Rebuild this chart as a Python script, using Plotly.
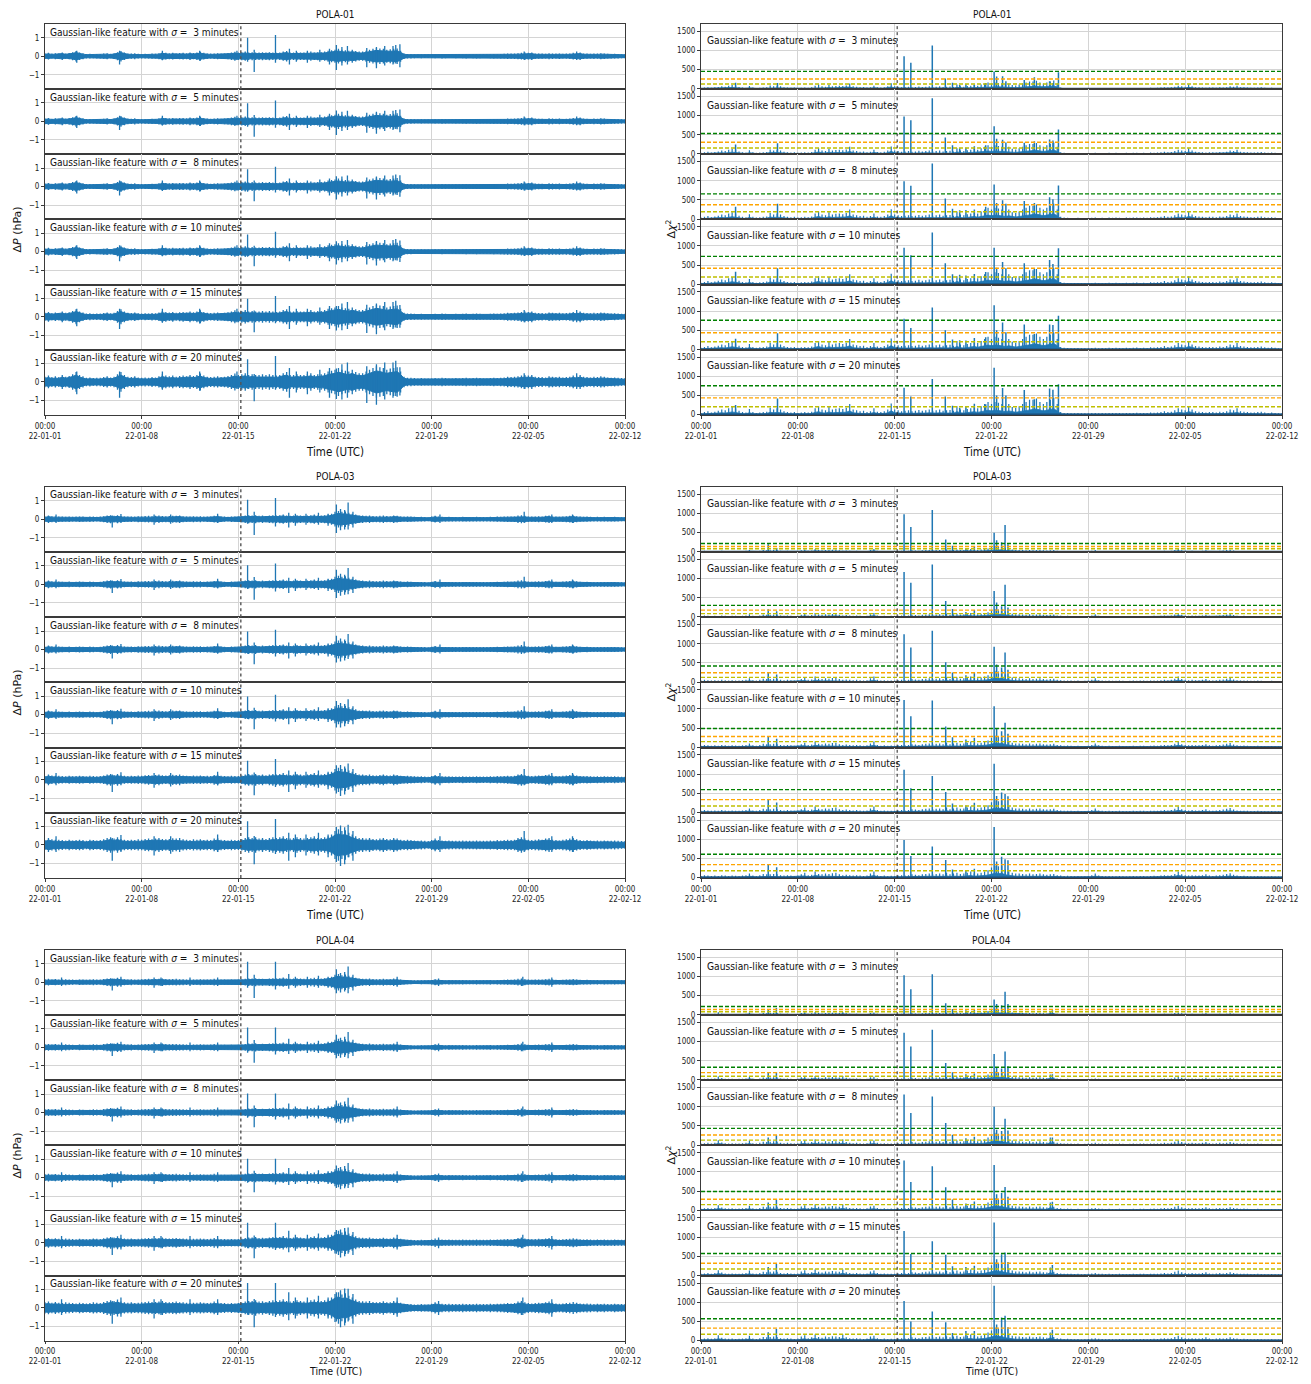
import pandas as pd
import plotly.graph_objects as go

# ---------------- data ----------------
stations = ["POLA-01", "POLA-03", "POLA-04"]
sigmas = [3, 5, 8, 10, 15, 20]
start_date = "2022-01-01"
n_days = 42
event_day = 14.18          # 2022-01-15 04:15 UTC
bin_step_days = 0.25       # 6-hour bins
tick_days = [0, 7, 14, 21, 28, 35, 42]
tick_text = ["00:00<br>22-01-01", "00:00<br>22-01-08", "00:00<br>22-01-15", "00:00<br>22-01-22",
             "00:00<br>22-01-29", "00:00<br>22-02-05", "00:00<br>22-02-12"]
dp_ticks = [-1, 0, 1]
dp_tick_text = ["\u22121", "0", "1"]
chi_ticks = [0, 500, 1000, 1500]
chi_tick_text = ["0", "500", "1000", "1500"]

# ---- ΔP envelope amplitude (hPa), sigma = 3 min, 6-hour bins ----
amp_pola01 = [
    .15, .18, .14, .16, .14, .20, .15, .17, .22, .28, .20, .16, .12, .13, .11, .12,
    .12, .14, .16, .13, .15, .22, .28, .20, .15, .14, .16, .13, .12, .13, .12, .14,
    .13, .16, .22, .18, .16, .18, .15, .17, .18, .16, .20, .17, .20, .24, .18, .15,
    .14, .15, .16, .14, .15, .17, .20, .24, .20, .22, .25, .20, .22, .20, .20, .22,
    .20, .22, .20, .18, .20, .25, .28, .20, .20, .22, .20, .20, .22, .25, .20, .22,
    .22, .25, .30, .32, .35, .40, .35, .32, .30, .35, .28, .25, .25, .30, .35, .40,
    .45, .42, .40, .35, .38, .40, .42, .30, .15, .12, .12, .11, .10, .11, .10, .10,
    .10, .11, .10, .12, .11, .10, .10, .11, .10, .11, .12, .10, .11, .12, .11, .10,
    .10, .11, .12, .11, .12, .13, .15, .14, .15, .16, .18, .20, .18, .20, .15, .14,
    .14, .13, .16, .15, .14, .15, .13, .14, .15, .18, .16, .20, .15, .14, .13, .15,
    .14, .16, .15, .13, .12, .13, .12, .11]
amp_pola03 = [
    .14, .20, .16, .15, .15, .14, .13, .15, .13, .14, .15, .14, .12, .15, .14, .13,
    .14, .16, .20, .22, .18, .22, .17, .15, .14, .15, .14, .16, .15, .17, .18, .16,
    .18, .20, .17, .16, .17, .19, .18, .20, .16, .15, .14, .16, .15, .16, .14, .15,
    .14, .18, .20, .15, .14, .13, .15, .14, .14, .16, .20, .22, .20, .22, .18, .20,
    .17, .20, .22, .20, .22, .25, .20, .18, .20, .22, .20, .18, .20, .22, .25, .20,
    .20, .22, .25, .30, .40, .45, .40, .42, .35, .30, .25, .20, .20, .18, .20, .17,
    .16, .18, .20, .17, .16, .20, .18, .15, .14, .15, .14, .13, .12, .13, .12, .11,
    .14, .18, .14, .13, .12, .13, .12, .12, .12, .13, .12, .12, .12, .13, .12, .12,
    .12, .13, .12, .14, .13, .14, .15, .14, .15, .20, .22, .18, .15, .14, .15, .16,
    .15, .18, .20, .15, .14, .13, .15, .16, .18, .20, .16, .14, .13, .14, .13, .12,
    .13, .12, .13, .12, .12, .13, .12, .11]
amp_pola04 = [
    .16, .18, .15, .17, .15, .14, .16, .15, .14, .13, .15, .14, .13, .14, .16, .15,
    .14, .17, .20, .22, .20, .24, .18, .16, .15, .16, .14, .15, .16, .17, .18, .17,
    .17, .18, .20, .17, .16, .17, .18, .16, .16, .15, .14, .15, .15, .16, .15, .14,
    .15, .18, .16, .14, .14, .13, .14, .13, .14, .15, .18, .20, .20, .22, .18, .19,
    .17, .20, .22, .20, .22, .25, .20, .18, .20, .22, .20, .18, .19, .22, .24, .20,
    .20, .22, .24, .30, .40, .45, .38, .42, .35, .30, .24, .20, .19, .18, .20, .17,
    .16, .17, .19, .16, .16, .20, .18, .15, .12, .11, .11, .10, .10, .11, .10, .10,
    .12, .16, .13, .12, .11, .12, .11, .11, .11, .12, .11, .11, .11, .12, .11, .11,
    .11, .12, .11, .12, .12, .13, .14, .13, .14, .18, .20, .16, .14, .13, .14, .15,
    .14, .16, .18, .15, .13, .12, .13, .14, .15, .17, .15, .13, .12, .13, .12, .11,
    .12, .11, .12, .11, .11, .12, .11, .11]
amp_gain_by_sigma = [1.0, 1.03, 1.08, 1.15, 1.45, 1.9]

# ---- ΔP spikes: (day, up, down) at sigma = 3 min ----
major_dp_pola01 = [(14.67, 1.0, -.3), (15.15, .35, -.85), (16.69, 1.15, -.35), (21.1, .6, -.75), (25.7, .65, -.6)]
minor_dp_pola01 = [(2.3, .3, -.35), (5.4, .3, -.45), (8.5, .3, -.2), (11.2, .3, -.25), (13.9, .3, -.2),
                   (17.7, .4, -.45), (18.2, .3, -.3), (19.0, .3, -.35), (19.9, .35, -.3), (20.6, .4, -.45),
                   (21.5, .5, -.5), (21.9, .55, -.45), (23.3, .45, -.6), (24.0, .5, -.65), (24.6, .55, -.5),
                   (25.2, .55, -.45), (25.4, .6, -.4), (34.7, .25, -.2), (38.5, .25, -.2)]
major_dp_pola03 = [(14.67, 1.05, -.25), (15.15, .4, -.85), (16.69, 1.15, -.4), (21.1, .8, -.75), (21.95, .9, -.55)]
minor_dp_pola03 = [(0.8, .25, -.2), (4.87, .2, -.45), (5.5, .28, -.2), (7.9, .25, -.3), (9.1, .25, -.25),
                   (12.5, .3, -.2), (17.65, .35, -.45), (18.13, .3, -.35), (18.9, .3, -.3), (19.8, .35, -.3),
                   (20.5, .3, -.35), (21.4, .55, -.6), (21.7, .5, -.55), (22.3, .4, -.45), (28.6, .25, -.2),
                   (34.7, .4, -.2), (36.7, .25, -.2), (38.2, .25, -.2)]
major_dp_pola04 = [(14.67, 1.1, -.3), (15.15, .4, -.85), (16.69, 1.1, -.4), (21.1, .7, -.6), (21.95, .85, -.6)]
minor_dp_pola04 = [(1.2, .25, -.2), (4.87, .2, -.45), (5.5, .3, -.25), (7.9, .25, -.3), (8.4, .25, -.2),
                   (10.5, .25, -.2), (12.5, .25, -.2), (17.65, .45, -.35), (18.13, .3, -.3), (19.0, .3, -.3),
                   (19.8, .35, -.3), (20.5, .3, -.3), (21.4, .5, -.55), (21.7, .55, -.5), (22.3, .4, -.45),
                   (25.5, .3, -.25), (28.5, .2, -.2), (34.6, .3, -.2), (36.7, .25, -.25)]
major_gain_by_sigma = [1.0, 0.98, 0.93, 0.93, 0.98, 1.22]

# ---- Δχ² background, sigma = 8 min, 6-hour bins ----
chi_bg_pola01 = [
    40, 60, 80, 50, 70, 90, 120, 100, 150, 180, 140, 90, 60, 50, 130, 60,
    40, 50, 60, 70, 160, 120, 150, 120, 80, 60, 50, 60, 40, 50, 60, 50,
    70, 150, 200, 120, 100, 180, 120, 140, 150, 130, 160, 250, 120, 100, 80, 90,
    60, 80, 150, 70, 60, 80, 120, 260, 120, 100, 80, 90, 100, 80, 90, 110,
    90, 100, 120, 90, 100, 120, 90, 100, 110, 90, 200, 120, 100, 130, 150, 200,
    150, 200, 250, 300, 250, 300, 280, 250, 200, 250, 180, 160, 200, 250, 300, 350,
    350, 380, 300, 250, 300, 350, 400, 250, 60, 40, 35, 30, 30, 35, 30, 30,
    30, 35, 40, 30, 35, 30, 40, 35, 40, 35, 30, 40, 35, 40, 45, 35,
    40, 35, 50, 45, 50, 60, 80, 60, 70, 100, 150, 120, 100, 200, 120, 80,
    70, 60, 50, 60, 60, 50, 70, 60, 80, 120, 100, 150, 80, 70, 60, 50,
    50, 60, 70, 50, 40, 50, 40, 30]
chi_bg_pola03 = [
    40, 60, 50, 40, 50, 40, 60, 50, 40, 50, 45, 40, 50, 60, 100, 50,
    40, 60, 90, 80, 80, 90, 80, 60, 50, 60, 50, 40, 50, 80, 120, 60,
    70, 150, 90, 80, 100, 90, 110, 120, 80, 60, 70, 60, 50, 60, 50, 40,
    50, 100, 150, 60, 40, 50, 40, 45, 40, 50, 60, 50, 60, 80, 70, 60,
    80, 90, 100, 80, 90, 100, 80, 120, 80, 100, 120, 90, 100, 120, 150, 100,
    100, 120, 150, 180, 250, 300, 280, 300, 200, 150, 120, 100, 100, 90, 80, 100,
    80, 90, 100, 80, 70, 80, 90, 60, 50, 40, 45, 40, 35, 40, 30, 35,
    40, 60, 100, 50, 40, 35, 40, 35, 35, 40, 35, 30, 35, 40, 35, 40,
    40, 35, 40, 45, 40, 50, 60, 50, 60, 90, 150, 80, 60, 50, 60, 50,
    50, 60, 80, 50, 40, 50, 60, 70, 90, 110, 70, 50, 40, 45, 40, 35,
    35, 40, 35, 30, 30, 35, 30, 30]
chi_bg_pola04 = [
    40, 50, 60, 45, 60, 130, 70, 50, 45, 50, 40, 45, 50, 60, 120, 50,
    40, 60, 90, 80, 90, 100, 90, 60, 50, 60, 50, 40, 50, 100, 130, 60,
    80, 150, 90, 70, 100, 90, 110, 100, 90, 150, 80, 60, 50, 60, 50, 40,
    50, 100, 120, 60, 40, 50, 40, 45, 40, 50, 60, 50, 60, 80, 70, 60,
    80, 90, 100, 80, 90, 100, 80, 110, 80, 100, 120, 90, 100, 120, 150, 100,
    100, 120, 150, 200, 250, 320, 300, 280, 200, 150, 120, 100, 100, 90, 80, 100,
    80, 90, 100, 80, 70, 200, 90, 60, 50, 40, 45, 40, 35, 40, 30, 35,
    40, 50, 60, 45, 40, 35, 40, 35, 35, 40, 35, 30, 35, 40, 35, 40,
    40, 35, 40, 45, 40, 50, 60, 50, 60, 90, 120, 80, 60, 50, 60, 50,
    50, 60, 80, 50, 40, 50, 60, 50, 60, 80, 60, 50, 40, 45, 40, 35,
    35, 40, 35, 30, 30, 35, 30, 30]
chi_bg_gain_pola01 = [0.55, 0.75, 1.0, 1.05, 1.1, 1.1]
chi_bg_gain_pola03 = [0.5, 0.7, 1.0, 1.0, 1.05, 1.05]
chi_bg_gain_pola04 = [0.5, 0.7, 1.0, 1.0, 1.05, 1.05]

# ---- Δχ² spikes: (day, [value for sigma = 3, 5, 8, 10, 15, 20]) ----
chi_spikes_pola01 = [
    (2.5, [160, 250, 320, 330, 280, 250]), (5.53, [150, 280, 400, 420, 420, 420]),
    (14.68, [850, 980, 990, 950, 800, 700]), (15.17, [680, 880, 870, 760, 560, 470]),
    (16.72, [1130, 1450, 1450, 1350, 1090, 930]), (17.66, [270, 430, 540, 550, 500, 470]),
    (18.18, [160, 230, 270, 260, 260, 230]), (18.7, [100, 150, 230, 250, 240, 180]),
    (19.15, [120, 160, 240, 230, 230, 200]), (19.76, [100, 200, 250, 270, 300, 280]),
    (20.58, [150, 230, 320, 320, 320, 270]), (21.19, [450, 720, 900, 950, 1150, 1220]),
    (21.37, [320, 400, 420, 430, 500, 500]), (21.8, [330, 370, 490, 580, 700, 690]),
    (22.04, [200, 300, 400, 420, 450, 500]), (23.37, [230, 290, 470, 550, 650, 640]),
    (24.1, [300, 330, 420, 400, 400, 400]), (25.2, [200, 380, 570, 630, 650, 680]),
    (25.44, [150, 350, 520, 530, 640, 650]), (25.84, [430, 640, 880, 940, 880, 790])]
chi_spikes_pola03 = [
    (4.86, [200, 200, 260, 280, 330, 330]), (5.47, [100, 150, 200, 220, 260, 270]),
    (14.68, [980, 1170, 1250, 1230, 1110, 980]), (15.17, [650, 890, 900, 810, 630, 560]),
    (16.72, [1090, 1370, 1340, 1220, 950, 810]), (17.69, [320, 420, 520, 540, 530, 460]),
    (18.18, [160, 210, 250, 260, 230, 210]), (19.15, [100, 130, 180, 200, 180, 180]),
    (19.76, [150, 180, 250, 250, 250, 230]), (21.19, [500, 680, 920, 1070, 1270, 1320]),
    (21.37, [300, 380, 460, 480, 430, 420]), (21.73, [250, 280, 380, 420, 520, 540]),
    (21.98, [700, 840, 770, 640, 480, 480]), (22.19, [200, 250, 320, 350, 420, 450])]
chi_spikes_pola04 = [
    (4.86, [150, 180, 200, 200, 220, 220]), (5.45, [180, 200, 260, 280, 300, 300]),
    (14.68, [1030, 1230, 1320, 1300, 1160, 1030]), (15.17, [670, 870, 840, 740, 560, 500]),
    (16.72, [1060, 1310, 1270, 1150, 890, 760]), (17.69, [300, 440, 580, 600, 540, 480]),
    (18.18, [150, 200, 270, 280, 240, 200]), (19.15, [120, 150, 180, 180, 220, 250]),
    (19.76, [130, 170, 220, 230, 250, 250]), (21.19, [400, 680, 1000, 1180, 1380, 1430]),
    (21.37, [280, 320, 400, 420, 420, 420]), (21.73, [250, 300, 370, 450, 550, 600]),
    (21.98, [600, 740, 690, 610, 600, 650]), (22.19, [280, 360, 380, 350, 350, 350]),
    (25.4, [120, 150, 200, 220, 270, 280])]

# ---- Δχ² thresholds per sigma: green (high), orange (mid), yellow (low) ----
thr_green_pola01 = [455, 535, 658, 727, 760, 750]
thr_orange_pola01 = [255, 307, 377, 418, 436, 437]
thr_yellow_pola01 = [127, 158, 193, 190, 200, 205]
thr_green_pola03 = [219, 304, 421, 491, 596, 607]
thr_orange_pola03 = [140, 179, 246, 281, 333, 339]
thr_yellow_pola03 = [79, 89, 123, 149, 167, 179]
thr_green_pola04 = [219, 333, 438, 491, 570, 570]
thr_orange_pola04 = [140, 193, 263, 289, 316, 325]
thr_yellow_pola04 = [79, 96, 132, 149, 167, 167]

station_data = {
    "POLA-01": dict(amp=amp_pola01, major=major_dp_pola01, minor=minor_dp_pola01, bg=chi_bg_pola01,
                    bg_gain=chi_bg_gain_pola01, spikes=chi_spikes_pola01,
                    thr=(thr_green_pola01, thr_orange_pola01, thr_yellow_pola01)),
    "POLA-03": dict(amp=amp_pola03, major=major_dp_pola03, minor=minor_dp_pola03, bg=chi_bg_pola03,
                    bg_gain=chi_bg_gain_pola03, spikes=chi_spikes_pola03,
                    thr=(thr_green_pola03, thr_orange_pola03, thr_yellow_pola03)),
    "POLA-04": dict(amp=amp_pola04, major=major_dp_pola04, minor=minor_dp_pola04, bg=chi_bg_pola04,
                    bg_gain=chi_bg_gain_pola04, spikes=chi_spikes_pola04,
                    thr=(thr_green_pola04, thr_orange_pola04, thr_yellow_pola04)),
}

# ---------------- styling / layout ----------------
PAGE_W, PAGE_H = 1311, 1384
BODY = 8                      # browser default body margin
W, H = PAGE_W - 2 * BODY, PAGE_H - 2 * BODY
BLUE = "#1f77b4"
THR_COLORS = ["#008000", "#ffa500", "#c0c000"]
FONT = "Liberation Sans Narrow, DejaVu Sans Condensed, DejaVu Sans, sans-serif"
GRID = "#d4d4d4"
FRAME = "#3a3a3a"
LEFT_X = (45, 625)
RIGHT_X = (701, 1282)
BLOCK_TOPS = [24, 487, 950]
SUB_H = 65.15
DP_RANGE = [-1.78, 1.74]
CHI_RANGE = [-8, 1690]
CORE_FRAC_DP = 0.7     # dense core of the ΔP trace relative to its envelope (rendering)
CORE_FRAC_CHI = 0.35   # dense floor of the Δχ² trace relative to its envelope (rendering)

t0 = pd.Timestamp(start_date)


def dt(d):
    return t0 + pd.Timedelta(days=d)


bin_days = [i * bin_step_days for i in range(int(n_days / bin_step_days))] + [float(n_days)]
bin_x = [dt(d) for d in bin_days]
x_range = [dt(0), dt(n_days)]
tick_vals = [dt(d) for d in tick_days]

fig = go.Figure()
layout_axes = {}
shapes = []
annotations = []


def fx(p):
    return (p - BODY) / W


def fy(p):
    return 1 - (p - BODY) / H


def seg(xs, lo, hi):
    sx, sy = [], []
    for x, a, b in zip(xs, lo, hi):
        sx += [x, x, None]
        sy += [a, b, None]
    return sx, sy


n = 0
for s_idx, st in enumerate(stations):
    data = station_data[st]
    top0 = BLOCK_TOPS[s_idx]
    last_block = (s_idx == len(stations) - 1)
    for side in (0, 1):
        xdom = LEFT_X if side == 0 else RIGHT_X
        for k, sig in enumerate(sigmas):
            n += 1
            xa = "x" if n == 1 else f"x{n}"
            ya = "y" if n == 1 else f"y{n}"
            top = top0 + k * SUB_H
            bot = top + SUB_H
            bottom_row = (k == len(sigmas) - 1)
            layout_axes["xaxis" if n == 1 else f"xaxis{n}"] = dict(
                domain=[fx(xdom[0]), fx(xdom[1])], anchor=ya, range=x_range, automargin=False,
                tickvals=tick_vals, ticktext=tick_text, showticklabels=bottom_row,
                ticks="outside" if bottom_row else "", ticklen=2 if last_block else 3, tickcolor=FRAME,
                tickfont=dict(size=8, color="#222", family=FONT),
                showgrid=True, gridcolor=GRID, gridwidth=1, zeroline=False,
                showline=True, mirror=True, linecolor=FRAME, linewidth=1)
            if side == 0:
                yv, yt, yr = dp_ticks, dp_tick_text, DP_RANGE
            else:
                yv, yt, yr = chi_ticks, chi_tick_text, CHI_RANGE
            layout_axes["yaxis" if n == 1 else f"yaxis{n}"] = dict(
                domain=[fy(bot), fy(top)], anchor=xa, range=yr, automargin=False,
                tickvals=yv, ticktext=yt, ticks="outside", ticklen=3, tickcolor=FRAME,
                tickfont=dict(size=8, color="#222", family=FONT),
                showgrid=True, gridcolor=GRID, gridwidth=1, zeroline=False,
                showline=True, mirror=True, linecolor=FRAME, linewidth=1)

            pad = "\u00a0" if sig < 10 else ""
            label_txt = f"Gaussian-like feature with <i>σ</i> = {pad}{sig} minutes"
            if side == 0:
                g = amp_gain_by_sigma[k]
                amp = data["amp"] + [data["amp"][-1]]
                up = [a * g for a in amp]
                dn = [-a * g for a in amp]
                core_up = [a * g * CORE_FRAC_DP for a in amp]
                core_dn = [-a * g * CORE_FRAC_DP for a in amp]
                fig.add_trace(go.Scatter(x=bin_x, y=core_up, mode="lines", line=dict(color=BLUE, width=1),
                                         xaxis=xa, yaxis=ya, showlegend=False, hoverinfo="skip"))
                fig.add_trace(go.Scatter(x=bin_x, y=core_dn, mode="lines", line=dict(color=BLUE, width=1),
                                         fill="tonexty", fillcolor=BLUE,
                                         xaxis=xa, yaxis=ya, showlegend=False, hoverinfo="skip"))
                sx, sy = seg(bin_x, dn, up)
                for (d, u, l) in data["minor"]:
                    sx += [dt(d), dt(d), None]
                    sy += [l * g, u * g, None]
                mg = major_gain_by_sigma[k]
                for (d, u, l) in data["major"]:
                    sx += [dt(d), dt(d), None]
                    sy += [l * mg, u * mg, None]
                fig.add_trace(go.Scatter(x=sx, y=sy, mode="lines", line=dict(color=BLUE, width=1.3),
                                         xaxis=xa, yaxis=ya, showlegend=False, hoverinfo="skip"))
                annotations.append(dict(x=fx(xdom[0] + 3), y=fy(top + 0.5), xref="paper", yref="paper",
                                        xanchor="left", yanchor="top", showarrow=False, text=label_txt,
                                        font=dict(size=10.1, color="#111", family=FONT)))
                shapes.append(dict(type="line", xref=xa, yref=f"{ya} domain", x0=dt(event_day),
                                   x1=dt(event_day), y0=0, y1=1,
                                   line=dict(color="#555", width=1.4, dash="dot")))
            else:
                g = data["bg_gain"][k]
                bg = [b * g for b in data["bg"] + [data["bg"][-1]]]
                fig.add_trace(go.Scatter(x=bin_x, y=[b * CORE_FRAC_CHI for b in bg], mode="lines",
                                         line=dict(color=BLUE, width=0.8), fill="tozeroy", fillcolor=BLUE,
                                         xaxis=xa, yaxis=ya, showlegend=False, hoverinfo="skip"))
                sx, sy = seg(bin_x, [0] * len(bg), bg)
                fig.add_trace(go.Scatter(x=sx, y=sy, mode="lines", line=dict(color=BLUE, width=1.2),
                                         xaxis=xa, yaxis=ya, showlegend=False, hoverinfo="skip"))
                sx, sy = [], []
                for (d, vals) in data["spikes"]:
                    sx += [dt(d), dt(d), None]
                    sy += [0, vals[k], None]
                fig.add_trace(go.Scatter(x=sx, y=sy, mode="lines", line=dict(color=BLUE, width=1.5),
                                         xaxis=xa, yaxis=ya, showlegend=False, hoverinfo="skip"))
                fig.add_trace(go.Scatter(x=x_range, y=[0, 0], mode="lines", line=dict(color="#1b4f7a", width=2),
                                         xaxis=xa, yaxis=ya, showlegend=False, hoverinfo="skip"))
                for thr_list, col in zip(data["thr"], THR_COLORS):
                    fig.add_trace(go.Scatter(x=x_range, y=[thr_list[k]] * 2, mode="lines",
                                             line=dict(color=col, width=1.4, dash="4px,2px"),
                                             xaxis=xa, yaxis=ya, showlegend=False, hoverinfo="skip"))
                annotations.append(dict(x=fx(xdom[0] + 4), y=fy(top + 16), xref="paper", yref="paper",
                                        xanchor="left", yanchor="middle", showarrow=False, text=label_txt,
                                        font=dict(size=10.2, color="#111", family=FONT)))
                shapes.append(dict(type="line", xref=xa, yref=f"{ya} domain", x0=dt(event_day),
                                   x1=dt(event_day), y0=0, y1=1,
                                   line=dict(color="#222", width=1, dash="dot")))

        cx = (xdom[0] + xdom[1]) / 2
        annotations.append(dict(x=fx(cx), y=fy(top0 - 10), xref="paper", yref="paper", showarrow=False,
                                text=st, xanchor="center", yanchor="middle",
                                font=dict(size=10, color="#111", family=FONT)))
        if last_block:
            xl_y, xl_size = PAGE_H - BODY - 5, 10.5
        else:
            xl_y, xl_size = top0 + 6 * SUB_H + 37, 11.5
        annotations.append(dict(x=fx(cx), y=fy(xl_y), xref="paper", yref="paper",
                                showarrow=False, text="Time (UTC)", xanchor="center", yanchor="middle",
                                font=dict(size=xl_size, color="#111", family=FONT)))
        ylab = "Δ<i>P</i> (hPa)" if side == 0 else "Δ<i>χ</i><sup>2</sup>"
        ylx = 17 if side == 0 else 671
        annotations.append(dict(x=fx(ylx), y=fy(top0 + 3 * SUB_H + 10), xref="paper", yref="paper",
                                showarrow=False, text=ylab, textangle=-90, xanchor="center", yanchor="middle",
                                font=dict(size=11, color="#111", family="DejaVu Sans, sans-serif")))

fig.update_layout(width=W, height=H, autosize=False, margin=dict(l=0, r=0, t=0, b=0, autoexpand=False),
                  paper_bgcolor="white", plot_bgcolor="white", showlegend=False,
                  shapes=shapes, annotations=annotations, **layout_axes)
fig.write_html("out.html")
